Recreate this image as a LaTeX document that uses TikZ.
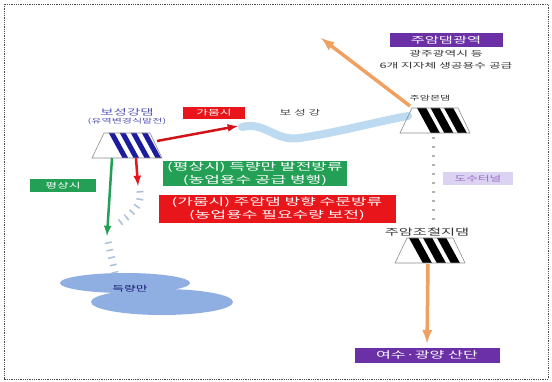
\documentclass[tikz,border=0pt]{standalone}
\usepackage{fontspec}
\usetikzlibrary{positioning}
\newfontfamily\kr[FakeStretch=1.7]{Noto Sans CJK KR}
\definecolor{dryred}{HTML}{E8151B}
\definecolor{wetgreen}{HTML}{23A055}
\definecolor{regionpurple}{HTML}{6B2FA6}
\definecolor{tunnellilac}{HTML}{DCD2F2}
\definecolor{pipeorange}{HTML}{F0A060}
\definecolor{riverblue}{HTML}{BDDAF0}
\definecolor{bayblue}{HTML}{8FAFE2}
\definecolor{damblue}{HTML}{1C1C9C}
\definecolor{seepgray}{HTML}{AFC3DA}

\begin{document}
\begin{tikzpicture}[x=1pt,y=-1pt,>=latex]
	% Korean labels, set wide
	\tikzstyle{every node}=[font=\kr\fontsize{7.5}{9}\selectfont,inner sep=0pt,align=center]
	\tikzstyle{tag}=[text=white,minimum height=12pt]
	\tikzstyle{bigbox}=[text=white,font=\kr\fontsize{10}{13}\selectfont]
	\tikzstyle{seep}=[line width=7pt,dash pattern=on 1.6pt off 6pt]

	\useasboundingbox (0,0) rectangle (552,382);
	% dotted frame
	\draw[densely dotted,line width=0.8pt,black!70] (4,4) rectangle (548,379);

	% the river between the two dams
	\draw[riverblue,line width=8pt,line cap=round] (242,127) .. controls (265,121) and (275,142) .. (300,138) .. controls (340,132) and (375,122) .. (408,116);
	\node[text=black!75] (riverlabel) at (300,113) {보 성 강};

	% the bay
	\fill[bayblue] (125,283) ellipse (65 and 10);
	\fill[bayblue] (162,302) ellipse (71 and 13);
	\node[text=damblue!70!black] (bay) at (130,289) {득량만};

	% dams
	% cx: centre, ty: top, col: stripe colour, first: first stripe, n: stripes, gap: pitch, w: stripe width
	\foreach \cx/\ty/\col/\first/\n/\gap/\w in
	{
		127/133/damblue/110/4/11/5,
		435/108/black/420/3/13.5/8,
		430/238/black/412/3/14/8%
	} {
		\begin{scope}
			\clip (\cx-23,\ty) -- (\cx+23,\ty) -- (\cx+35,\ty+25) -- (\cx-35,\ty+25) -- cycle;
			\foreach \k in {1,...,\n}
				\draw[color=\col,line width=\w] ({\first+(\k-1)*\gap},\ty-3) -- ({\first+(\k-1)*\gap+17},\ty+28);
		\end{scope}
		\draw[black!45,line width=0.6pt] (\cx-23,\ty) -- (\cx+23,\ty) -- (\cx+35,\ty+25) -- (\cx-35,\ty+25) -- cycle;
	}

	% dam names
	\node[text=damblue!75,font=\kr\fontsize{8.5}{10}\selectfont] (bslabel) at (127,112) {보성강댐};
	\node[text=damblue!75,font=\kr\fontsize{6.5}{8}\selectfont,below=2pt of bslabel] (bsnote) {(유역변경식발전)};
	\node[text=black!80,font=\kr\fontsize{6.5}{8}\selectfont] (jalabel) at (430,98) {주암본댐};
	\node[text=black!80,font=\kr\fontsize{9}{10}\selectfont] (jclabel) at (427,232) {주암조절지댐};

	% end points on the dams
	\coordinate (bsout) at (157,141);
	\coordinate (riverin) at (238,126);
	\coordinate (bsleft) at (112,158);
	\coordinate (bsright) at (136,158);
	\coordinate (normalend) at (107,236);
	\coordinate (droughtend) at (138,186);
	\coordinate (jaout) at (410,106);
	\coordinate (wideend) at (321,38);
	\coordinate (jabottom) at (433,137);
	\coordinate (jctop) at (433,228);
	\coordinate (jcbottom) at (428,264);
	\coordinate (seepstart) at (140,191);
	\coordinate (seepend) at (118,224);
	\coordinate (baystart) at (108,242);
	\coordinate (bayend) at (115,273);

	% labels and boxes
	\node[tag,fill=dryred,minimum width=62pt] (droughttag) at (214,113) {가뭄시};
	\node[tag,fill=wetgreen,minimum width=66pt,minimum height=13pt] (normaltag) at (63,186) {평상시};
	\node[bigbox,fill=wetgreen,minimum width=184pt,minimum height=25pt] (normalbox) at (255,174) {(평상시) 득량만 발전방류\\(농업용수 공급 병행)};
	\node[bigbox,fill=dryred,minimum width=237pt,minimum height=28pt] (droughtbox) at (277,209) {(가뭄시) 주암댐 방향 수문방류\\(농업용수 필요수량 보전)};
	\node[tag,fill=regionpurple,font=\kr\fontsize{9}{10}\selectfont,minimum width=113pt,minimum height=14pt] (widetag) at (446,40) {주암댐광역};
	\node[text=black!80,font=\kr\fontsize{7.5}{12}\selectfont,below=3pt of widetag] (supply) {광주광역시 등\\6개 지자체 생공용수 공급};
	\node[fill=tunnellilac,text=regionpurple!70,minimum width=70pt,minimum height=13pt] (tunneltag) at (478,179) {도수터널};
	\node[tag,fill=regionpurple,font=\kr\fontsize{9.5}{10}\selectfont,minimum width=145pt,minimum height=15pt] (yeosutag) at (427,355) {여수·광양 산단};

	% flows
	\draw[->,dryred!90!black,line width=2.5pt] (bsout) -- (riverin);
	\draw[->,wetgreen,line width=2.5pt] (bsleft) -- (normalend);
	\draw[->,dryred,line width=2.5pt] (bsright) -- (droughtend);
	\draw[->,pipeorange,line width=3.5pt] (jaout) -- (wideend);
	\draw[->,pipeorange,line width=3.5pt,shorten >=4pt] (jcbottom) -- (yeosutag.north);
	% tunnel and seepage
	\draw[black!30,line width=3pt,dash pattern=on 2pt off 7pt] (jabottom) -- (jctop);
	\draw[seep,seepgray] (seepstart) .. controls (143,205) and (130,215) .. (seepend);
	\draw[seep,seepgray] (baystart) -- (bayend);
\end{tikzpicture}
\end{document}
